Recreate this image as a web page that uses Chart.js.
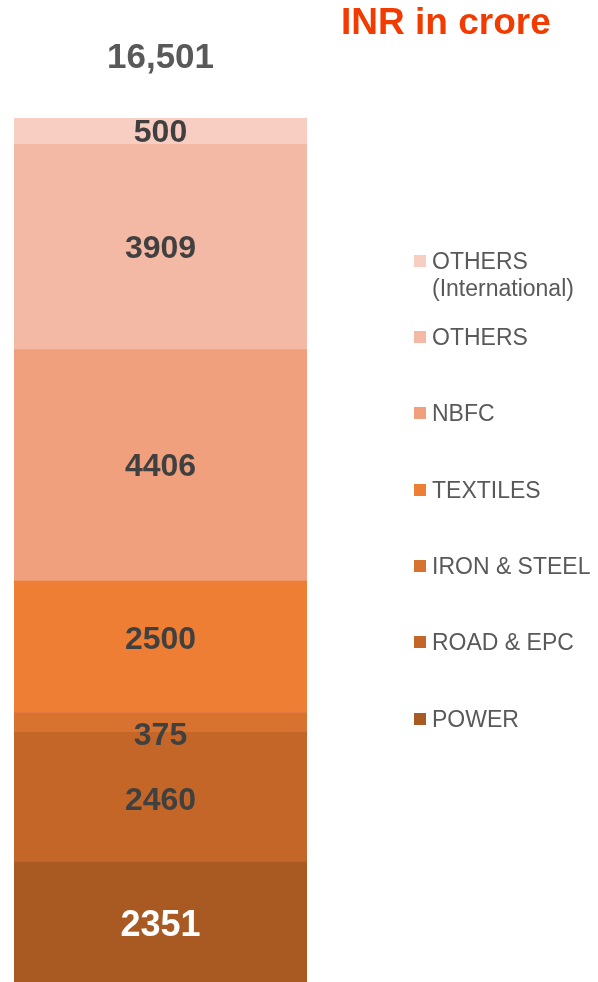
<!DOCTYPE html>
<html>
<head>
<meta charset="utf-8">
<script src="https://cdn.jsdelivr.net/npm/chart.js@4"></script>
<style>
  html, body { margin: 0; padding: 0; background: #fff; overflow: hidden; }
  #wrap { position: relative; width: 598px; height: 982px; overflow: hidden; }
</style>
</head>
<body>
<div id="wrap"><canvas id="my" width="598" height="985"></canvas></div>
<script>
// bottom to top
var sectors = ["POWER", "ROAD & EPC", "IRON & STEEL", "TEXTILES", "NBFC", "OTHERS", "OTHERS\n(International)"];
var amounts = [2351, 2460, 375, 2500, 4406, 3909, 500];
var colors = ["#A85A22", "#C46628", "#D87230", "#EE7E33", "#F0A07D", "#F4B9A5", "#F8CEC2"];
var total = amounts.reduce(function (a, b) { return a + b; }, 0);

var FONT = "'Liberation Sans', Arial, sans-serif";

var datasets = sectors.map(function (s, i) {
    return {
        label: s,
        data: [amounts[i]],
        backgroundColor: colors[i],
        borderWidth: 0,
        barPercentage: 1,
        categoryPercentage: 1
    };
});

// label nudges in px, same order as sectors
var nudge = [3, 4, 14, -7, 2, 2, 2];

var overlay = {
    id: 'overlay',
    afterDatasetsDraw: function (chart) {
        var c = chart.ctx;
        c.save();
        c.textAlign = 'center';
        c.textBaseline = 'middle';
        // segment labels
        chart.data.datasets.forEach(function (ds, i) {
            var bar = chart.getDatasetMeta(i).data[0];
            var y = (bar.y + bar.base) / 2 + nudge[i];
            c.fillStyle = i === 0 ? '#ffffff' : '#404040';
            c.font = 'bold ' + (i === 0 ? 36 : 32) + 'px ' + FONT;
            c.fillText(ds.data[0], bar.x, y);
        });
        // total
        var top = chart.getDatasetMeta(sectors.length - 1).data[0];
        c.fillStyle = '#595959';
        c.font = 'bold 35px ' + FONT;
        c.fillText(total.toLocaleString('en-US'), top.x, 58);
        // unit
        c.textAlign = 'left';
        c.fillStyle = '#F23B00';
        c.font = 'bold 37px ' + FONT;
        c.fillText('INR in crore', 341, 24);
        // legend, top item first
        c.font = '23px ' + FONT;
        var rowY = [261, 337, 413, 490, 566, 642, 719];
        for (var k = 0; k < sectors.length; k++) {
            var idx = sectors.length - 1 - k;
            var y0 = rowY[k];
            c.fillStyle = colors[idx];
            c.fillRect(414, y0 - 6, 12, 12);
            c.fillStyle = '#595959';
            var lines = sectors[idx].split('\n');
            lines.forEach(function (ln, j) {
                c.fillText(ln, 432, y0 + 2 + j * 27);
            });
        }
        c.restore();
    }
};

var ctx = document.getElementById("my").getContext('2d');
var myChart = new Chart(ctx, {
    type: 'bar',
    data: {
        labels: ["Total"],
        datasets: datasets
    },
    options: {
        responsive: false,
        animation: false,
        layout: { padding: { left: 14, right: 291, top: 118, bottom: 0 } },
        plugins: {
            legend: { display: false },
            tooltip: { enabled: false }
        },
        scales: {
            x: { stacked: true, display: false },
            y: { stacked: true, display: false, min: 0, max: total }
        }
    },
    plugins: [overlay]
});
</script>
</body>
</html>
